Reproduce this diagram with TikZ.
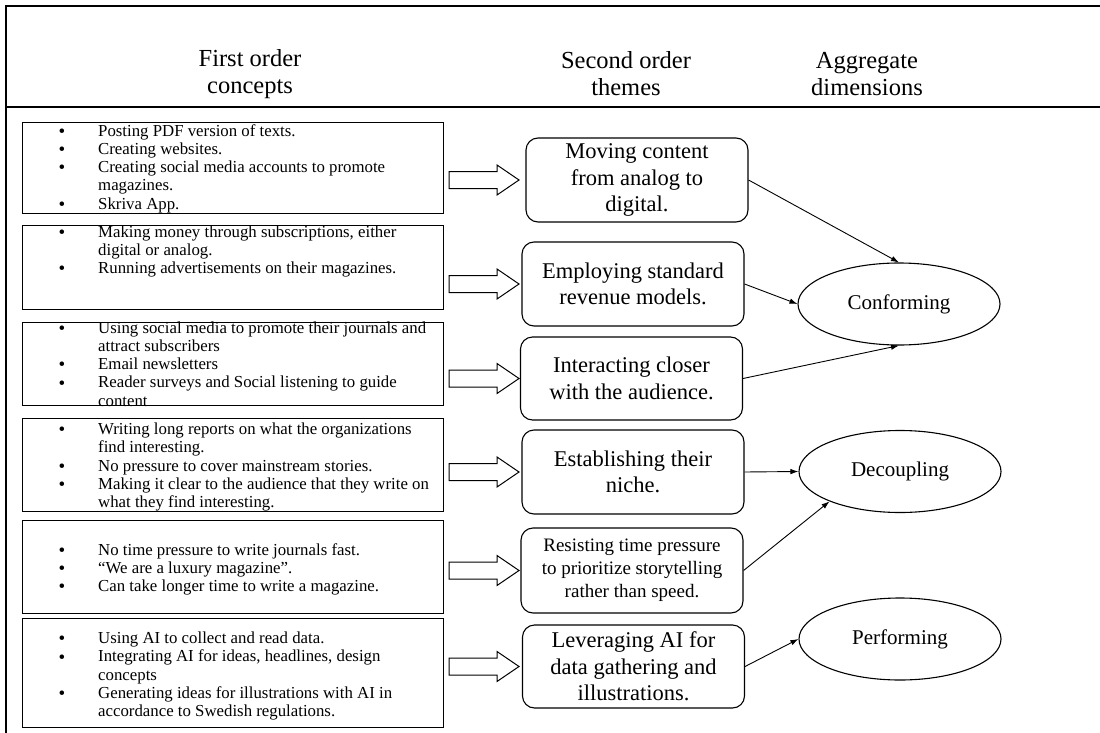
\documentclass[tikz,border=0pt]{standalone}
\usepackage{fontspec}
\setmainfont{Liberation Serif}
\usetikzlibrary{shapes.geometric,arrows.meta,calc}
\tikzset{
  frameline/.style={line width=1.2pt},
  head/.style={align=center, inner sep=0pt, font=\fontsize{24.5}{27}\selectfont},
  leftbox/.style={draw, line width=1.1pt, inner sep=0pt, anchor=north west, minimum width=421pt},
  listtext/.style={inner sep=0pt, anchor=north west, font=\fontsize{16.8}{18.3}\selectfont},
  theme/.style={draw, rounded corners=12pt, line width=1.1pt, align=center, inner sep=0pt,
    minimum width=222pt, minimum height=84pt, font=\fontsize{22.5}{26.5}\selectfont},
  dimension/.style={draw, ellipse, line width=1.1pt, minimum width=202pt, minimum height=82pt,
    inner sep=0pt, font=\fontsize{21}{25}\selectfont},
  link/.style={-{Latex[length=8pt,width=5.5pt]}, line width=0.9pt},
  barrow/.pic={\draw[line width=1pt, line join=miter]
    (-35,-8.5) -- (13,-8.5) -- (13,-15) -- (35,0) -- (13,15) -- (13,8.5) -- (-35,8.5) -- cycle;}
}
\newcommand{\bl}{\raisebox{-1.2pt}{\fontsize{19}{18}\selectfont\textbullet}}
\begin{document}
\begin{tikzpicture}[x=1pt,y=-1pt]
\useasboundingbox (0,0) rectangle (1100,733);
% frame
\draw[frameline] (6,733) -- (6,6) -- (1100,6);
\draw[frameline] (6,107) -- (1100,107);
% headers
\node[head] (h1) at (250,74) {First order\\concepts};
\node[head] (h2) at (626,74) {Second order\\themes};
\node[head] (h3) at (867,74) {Aggregate\\dimensions};
% left boxes
\node[leftbox, minimum height=91pt] (L1) at (22,122) {};
\node[leftbox, minimum height=84pt] (L2) at (22,225) {};
\node[leftbox, minimum height=83pt] (L3) at (22,322) {};
\node[leftbox, minimum height=93pt] (L4) at (22,418) {};
\node[leftbox, minimum height=93pt] (L5) at (22,520) {};
\node[leftbox, minimum height=109pt] (L6) at (22,618) {};
% left texts
\node[listtext] (L1t) at (58.5,123) {\begin{tabular}{@{}p{39.5pt}@{}l@{}}
\bl & Posting PDF version of texts.\\
\bl & Creating websites.\\
\bl & Creating social media accounts to promote\\
 & magazines.\\
\bl & Skriva App.
\end{tabular}};
\node[listtext] (L2t) at (58.5,224) {\begin{tabular}{@{}p{39.5pt}@{}l@{}}
\bl & Making money through subscriptions, either\\
 & digital or analog.\\
\bl & Running advertisements on their magazines.
\end{tabular}};
\node[listtext] (L3t) at (58.5,320) {\begin{tabular}{@{}p{39.5pt}@{}l@{}}
\bl & Using social media to promote their journals and\\
 & attract subscribers\\
\bl & Email newsletters\\
\bl & Reader surveys and Social listening to guide\\
 & content
\end{tabular}};
\node[listtext] (L4t) at (58.5,421.5) {\begin{tabular}{@{}p{39.5pt}@{}l@{}}
\bl & Writing long reports on what the organizations\\
 & find interesting.\\
\bl & No pressure to cover mainstream stories.\\
\bl & Making it clear to the audience that they write on\\
 & what they find interesting.
\end{tabular}};
\node[listtext] (L5t) at (58.5,542) {\begin{tabular}{@{}p{39.5pt}@{}l@{}}
\bl & No time pressure to write journals fast.\\
\bl & “We are a luxury magazine”.\\
\bl & Can take longer time to write a magazine.
\end{tabular}};
\node[listtext] (L6t) at (58.5,630.5) {\begin{tabular}{@{}p{39.5pt}@{}l@{}}
\bl & Using AI to collect and read data.\\
\bl & Integrating AI for ideas, headlines, design\\
 & concepts\\
\bl & Generating ideas for illustrations with AI in\\
 & accordance to Swedish regulations.
\end{tabular}};
% themes
\node[theme] (T1) at (637,180) {Moving content\\from analog to\\digital.};
\node[theme] (T2) at (633,284) {Employing standard\\revenue models.};
\node[theme, minimum height=83pt] (T3) at (631.5,378.5) {Interacting closer\\with the audience.};
\node[theme] (T4) at (633,472) {Establishing their\\niche.};
\node[theme, minimum height=85pt, font=\fontsize{19}{23}\selectfont] (T5) at (632,570.5) {Resisting time pressure\\to prioritize storytelling\\rather than speed.};
\node[theme, minimum height=83pt] (T6) at (633.5,666.5) {Leveraging AI for\\data gathering and\\illustrations.};
% dimensions
\node[dimension] (conf) at (899,304) {Conforming};
\node[dimension] (dec) at (900,471.5) {Decoupling};
\node[dimension] (perf) at (900,639) {Performing};
% block arrows
\coordinate (acol) at (484,0);
\pic at (acol |- T1.west) {barrow};
\pic at (acol |- T2.west) {barrow};
\pic at (acol |- T3.west) {barrow};
\pic at (acol |- T4.west) {barrow};
\pic at (acol |- T5.west) {barrow};
\pic at (acol |- T6.west) {barrow};
% links
\draw[link] (T1.east) -- (conf.north);
\draw[link] (T2.east) -- (conf.west);
\draw[link] (T3.east) -- (conf.south);
\draw[link] (T4.east) -- (dec.west);
\draw[link] (T5.east) -- (dec.203);
\draw[link] (T6.east) -- (perf.west);
\end{tikzpicture}
\end{document}
